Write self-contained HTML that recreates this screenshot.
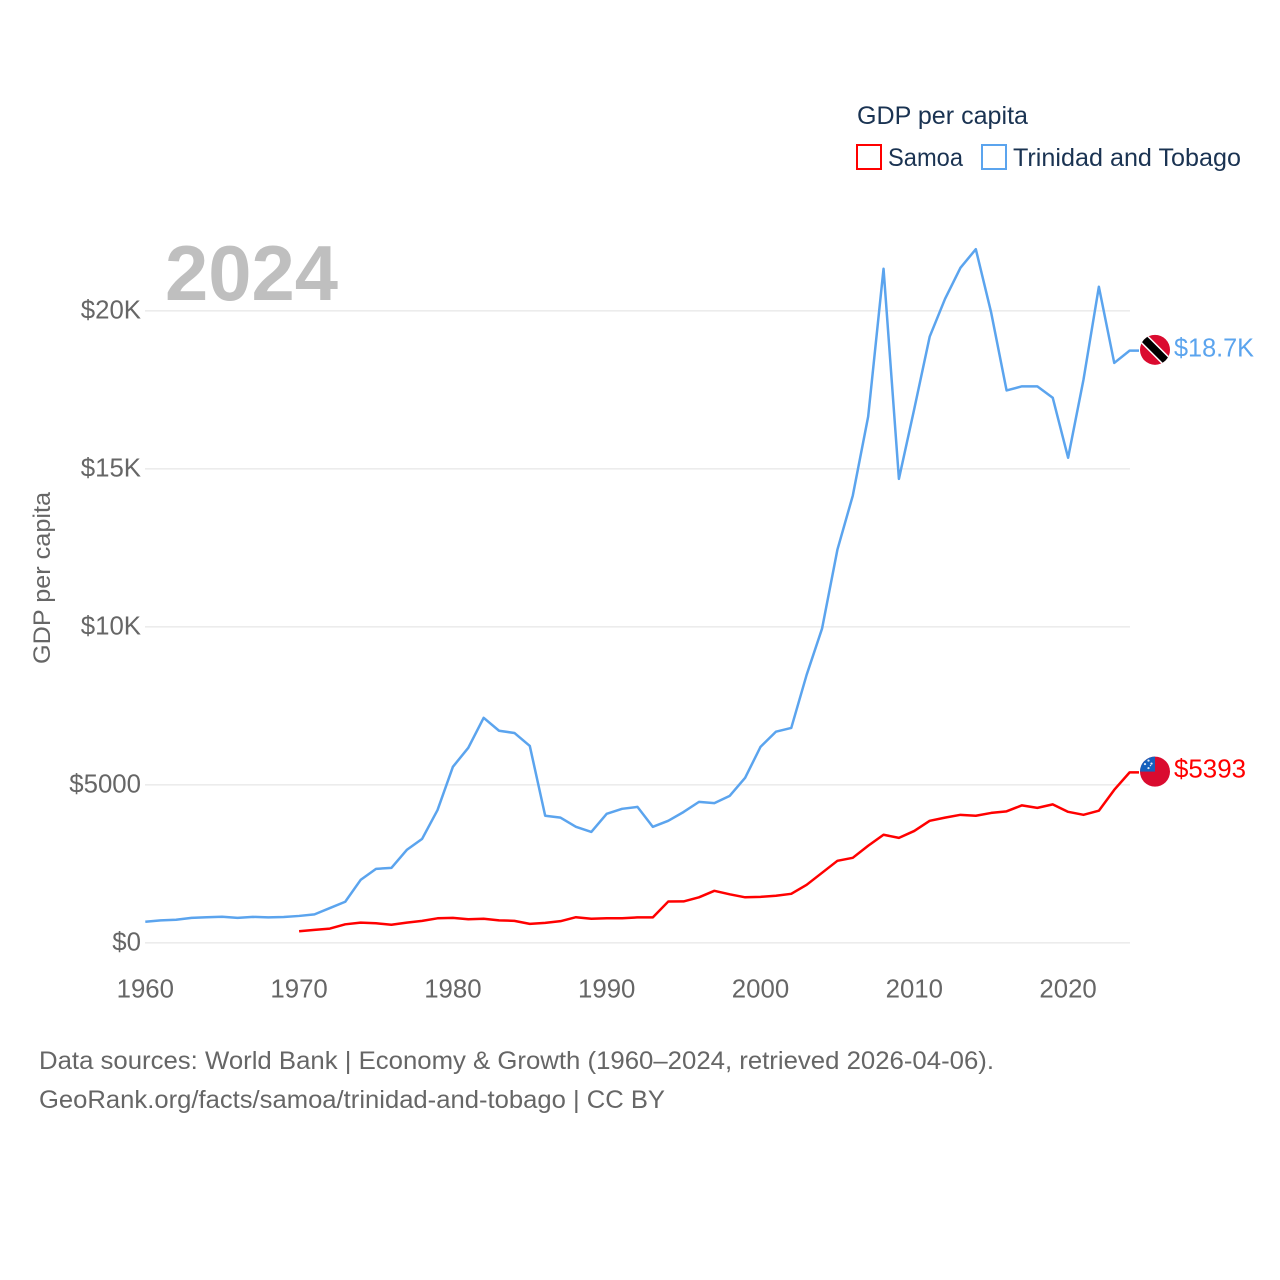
<!DOCTYPE html>
<html lang="en">
<head>
<meta charset="utf-8">
<title>GDP per capita: Samoa and Trinidad and Tobago</title>
<style>
html,body{margin:0;padding:0;background:#fff;width:1280px;height:1280px;overflow:hidden}
svg{display:block}
text{font-family:"Liberation Sans",sans-serif}
</style>
</head>
<body>
<svg id="chart" xmlns="http://www.w3.org/2000/svg" width="1280" height="1280" viewBox="0 0 1280 1280">
  <rect x="0" y="0" width="1280" height="1280" fill="#fff"/>
  <g id="grid"></g>
  <text x="165" y="300" font-size="78" font-weight="700" fill="#bfbfbf" textLength="173" lengthAdjust="spacingAndGlyphs">2024</text>
  <g id="yticks"></g>
  <g id="xticks"></g>
  <text transform="translate(50,664) rotate(-90)" font-size="24" fill="#666" textLength="172" lengthAdjust="spacingAndGlyphs">GDP per capita</text>
  <g id="series"></g>

  <g>
    <text x="857" y="124" font-size="25" fill="#1a3352" textLength="171" lengthAdjust="spacingAndGlyphs">GDP per capita</text>
    <g>
      <rect x="857" y="145" width="24" height="24" fill="none" stroke="#ff0000" stroke-width="2"/>
      <text x="888" y="166" font-size="25" fill="#1a3352" textLength="75" lengthAdjust="spacingAndGlyphs">Samoa</text>
    </g>
    <g>
      <rect x="982" y="145" width="24" height="24" fill="none" stroke="#5ba4ee" stroke-width="2"/>
      <text x="1013" y="166" font-size="25" fill="#1a3352" textLength="228" lengthAdjust="spacingAndGlyphs">Trinidad and Tobago</text>
    </g>
  </g>

  <defs>
    <clipPath id="flag-clip-tt"><circle id="clip-tt" cx="0" cy="0" r="15"/></clipPath>
    <clipPath id="flag-clip-ws"><circle id="clip-ws" cx="0" cy="0" r="15"/></clipPath>
  </defs>
  <g id="flag-tt">
    <g clip-path="url(#flag-clip-tt)">
      <rect x="-16" y="-16" width="32" height="32" fill="#da0b2f"/>
      <line x1="-16" y1="-16" x2="16" y2="16" stroke="#fff" stroke-width="10.5"/>
      <line x1="-16" y1="-16" x2="16" y2="16" stroke="#000" stroke-width="7.5"/>
    </g>
  </g>
  <g id="flag-ws">
    <g clip-path="url(#flag-clip-ws)">
      <rect x="-16" y="-16" width="32" height="32" fill="#da0b2f"/>
      <rect x="-16" y="-16" width="16" height="16" fill="#1560bd"/>
      <circle cx="-6.5" cy="-11" r="1.1" fill="#dfe8f5"/>
      <circle cx="-10" cy="-7.5" r="1.1" fill="#dfe8f5"/>
      <circle cx="-3.5" cy="-8" r="1.1" fill="#dfe8f5"/>
      <circle cx="-6.5" cy="-3.5" r="1.1" fill="#dfe8f5"/>
      <circle cx="-4.5" cy="-6" r="0.7" fill="#dfe8f5"/>
    </g>
  </g>
  <g id="end-labels"></g>

  <g>
    <text x="39" y="1069" font-size="25" fill="#666" textLength="955" lengthAdjust="spacingAndGlyphs">Data sources: World Bank | Economy &amp; Growth (1960–2024, retrieved 2026-04-06).</text>
    <text x="39" y="1108" font-size="25" fill="#666" textLength="626" lengthAdjust="spacingAndGlyphs">GeoRank.org/facts/samoa/trinidad-and-tobago | CC BY</text>
  </g>
</svg>
<script>
const firstYear = 1960;
const trinidad = [665,710,730,790,810,825,790,820,805,815,850,900,1100,1300,1990,2340,2370,2940,3290,4200,5570,6170,7120,6710,6640,6230,4020,3960,3670,3510,4080,4240,4300,3670,3860,4140,4460,4420,4650,5220,6200,6680,6800,8480,9940,12440,14150,16650,21330,14680,16900,19180,20380,21360,21950,19940,17480,17610,17610,17250,15350,17820,20760,18350,18740];
const samoa = [null,null,null,null,null,null,null,null,null,null,365,410,450,585,640,620,570,640,695,775,790,745,760,710,695,600,630,685,810,760,775,775,805,805,1305,1310,1440,1645,1535,1440,1455,1490,1550,1835,2215,2595,2690,3070,3420,3320,3540,3860,3960,4050,4020,4110,4160,4350,4270,4380,4145,4050,4180,4840,5393];
const xTickValues = [1960,1970,1980,1990,2000,2010,2020];
const xTickLabels = ['1960','1970','1980','1990','2000','2010','2020'];
const yTickValues = [0,5000,10000,15000,20000];
const yTickLabels = ['$0','$5000','$10K','$15K','$20K'];
const endLabels = ['$18.7K','$5393'];

const NS = 'http://www.w3.org/2000/svg';
const xScale = year => 145.3 + (year - 1960) * 15.38;
const yScale = value => 942.8 - value * 0.0316;
const make = (tag, parent) => parent.appendChild(document.createElementNS(NS, tag));

const gridGroup = document.getElementById('grid');
const yGroup = document.getElementById('yticks');
yTickValues.forEach((v, i) => {
  const ln = make('line', gridGroup);
  
  
  ln.setAttribute('x1', 145);
  ln.setAttribute('x2', 1130);
  ln.setAttribute('y1', yScale(v));
  ln.setAttribute('y2', yScale(v));
  ln.setAttribute('stroke', '#ececec');
  ln.setAttribute('stroke-width', 1.6);
  const t = make('text', yGroup);
  
  
  t.setAttribute('x', 141);
  t.setAttribute('y', yScale(v) + 7.8);
  t.setAttribute('text-anchor', 'end');
  t.setAttribute('font-size', 25.8);
  t.setAttribute('fill', '#666');
  t.textContent = yTickLabels[i];
});

const xGroup = document.getElementById('xticks');
xTickValues.forEach((v, i) => {
  const t = make('text', xGroup);
  
  
  t.setAttribute('x', xScale(v));
  t.setAttribute('y', 997.5);
  t.setAttribute('text-anchor', 'middle');
  t.setAttribute('font-size', 25.8);
  t.setAttribute('fill', '#666');
  t.textContent = xTickLabels[i];
});

const seriesGroup = document.getElementById('series');
function pathFor(values) {
  let d = '';
  let lastY = 0;
  values.forEach((v, i) => {
    if (v === null) return;
    lastY = yScale(v);
    d += (d ? 'L' : 'M') + xScale(firstYear + i).toFixed(2) + ' ' + lastY.toFixed(2);
  });
  return d + 'L1139 ' + lastY.toFixed(2);
}

const trinidadLine = make('path', seriesGroup);


trinidadLine.setAttribute('d', pathFor(trinidad));
trinidadLine.setAttribute('fill', 'none');
trinidadLine.setAttribute('stroke', '#5ba4ee');
trinidadLine.setAttribute('stroke-width', 2.5);
trinidadLine.setAttribute('stroke-linejoin', 'round');

const samoaLine = make('path', seriesGroup);


samoaLine.setAttribute('d', pathFor(samoa));
samoaLine.setAttribute('fill', 'none');
samoaLine.setAttribute('stroke', '#ff0000');
samoaLine.setAttribute('stroke-width', 2.5);
samoaLine.setAttribute('stroke-linejoin', 'round');

const lastT = yScale(trinidad[trinidad.length - 1]);
const lastS = yScale(samoa[samoa.length - 1]);
document.getElementById('flag-tt').setAttribute('transform', 'translate(1155,' + (lastT - 0.8) + ')');
document.getElementById('flag-ws').setAttribute('transform', 'translate(1155,' + (lastS - 0.8) + ')');

const endGroup = document.getElementById('end-labels');
const endT = make('text', endGroup);


endT.setAttribute('x', 1174);
endT.setAttribute('y', lastT + 5.7);
endT.setAttribute('font-size', 25.8);
endT.setAttribute('fill', '#5ba4ee');
endT.setAttribute('textLength', 80);
endT.setAttribute('lengthAdjust', 'spacingAndGlyphs');
endT.textContent = endLabels[0];

const endS = make('text', endGroup);


endS.setAttribute('x', 1174);
endS.setAttribute('y', lastS + 5);
endS.setAttribute('font-size', 25.8);
endS.setAttribute('fill', '#ff0000');
endS.setAttribute('textLength', 72);
endS.setAttribute('lengthAdjust', 'spacingAndGlyphs');
endS.textContent = endLabels[1];
</script>
</body>
</html>
